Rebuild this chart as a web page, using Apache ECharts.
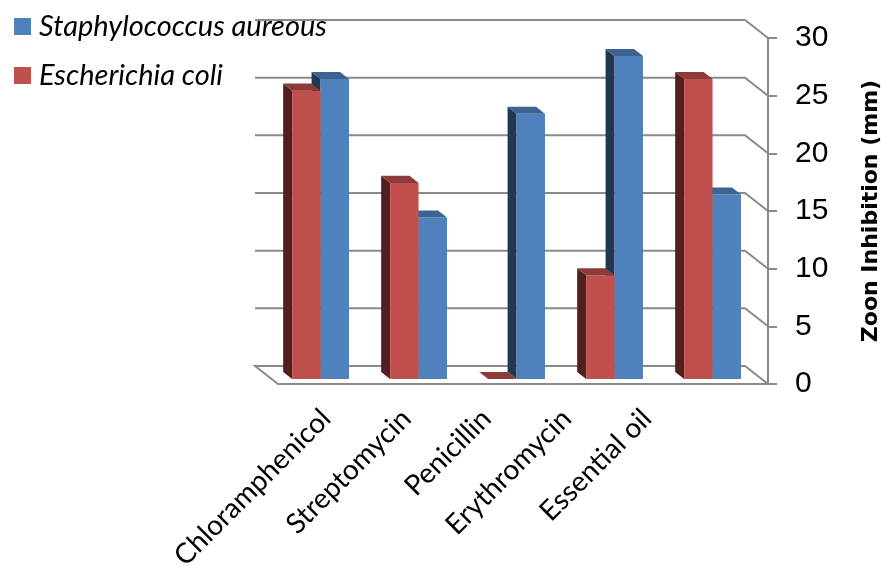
<!DOCTYPE html>
<html>
<head>
<meta charset="utf-8">
<script src="https://cdn.jsdelivr.net/npm/echarts@6/dist/echarts.min.js"></script>
<style>
html, body { margin: 0; padding: 0; background: #fff; }
#chart { width: 885px; height: 575px; }
</style>
</head>
<body>
<div id="chart"></div>
<script>
var categories = ['Chloramphenicol', 'Streptomycin', 'Penicillin', 'Erythromycin', 'Essential oil'];
var staphValues = [26, 14, 23, 28, 16];
var ecoliValues = [25, 17, 0, 9, 26];
var yTicks = [0, 5, 10, 15, 20, 25, 30];

// depth of the back wall, in px (pseudo 3D)
var DEPTH_X = -23, DEPTH_Y = -18;
var GRID_COLOR = '#8a8a8a';

function barRenderer(side, colors) {
    return function (params, api) {
        var idx = api.value(0);
        var top = api.coord([idx, api.value(1)]);
        var base = api.coord([idx, 0]);
        var band = api.size([1, 0])[0];
        var w = band * 0.29;
        var x0 = side < 0 ? top[0] - w : top[0];
        // front face sits a bit inside the floor, bar has some depth
        var ox = DEPTH_X * 0.28, oy = DEPTH_Y * 0.28;
        var dx = DEPTH_X * 0.39, dy = DEPTH_Y * 0.39;
        var fx0 = x0 + ox, fx1 = x0 + w + ox;
        var fyT = top[1] + oy, fyB = base[1] + oy;
        return {
            type: 'group',
            children: [
                {
                    type: 'polygon',
                    shape: { points: [[fx0, fyB], [fx0, fyT], [fx0 + dx, fyT + dy], [fx0 + dx, fyB + dy]] },
                    style: { fill: colors.side }
                },
                {
                    type: 'rect',
                    shape: { x: fx0, y: fyT, width: w, height: fyB - fyT },
                    style: { fill: colors.front }
                },
                {
                    type: 'polygon',
                    shape: { points: [[fx0, fyT], [fx1, fyT], [fx1 + dx, fyT + dy], [fx0 + dx, fyT + dy]] },
                    style: { fill: colors.top }
                }
            ]
        };
    };
}

function wallRenderer(params, api) {
    var v = api.value(1);
    var cs = params.coordSys;
    var y = api.coord([0, v])[1];
    var left = cs.x, right = cs.x + cs.width;
    var pts = [[right, y], [right + DEPTH_X, y + DEPTH_Y], [left + DEPTH_X, y + DEPTH_Y]];
    if (v === 0) {
        pts.push([left, y]);
    }
    return {
        type: 'polyline',
        shape: { points: pts },
        style: { stroke: GRID_COLOR, lineWidth: 2, fill: null }
    };
}

var chart = echarts.init(document.getElementById('chart'));

var option = {
    backgroundColor: '#fff',
    animation: false,
    legend: {
        orient: 'vertical',
        left: 14,
        top: 10,
        padding: 0,
        itemWidth: 17,
        itemHeight: 17,
        itemGap: 16,
        icon: 'rect',
        data: ['Staphylococcus aureous', 'Escherichia coli'],
        textStyle: {
            fontFamily: 'Lato',
            fontStyle: 'italic',
            fontSize: 29,
            lineHeight: 33,
            padding: [0, 0, 0, 3],
            color: '#000'
        }
    },
    grid: [
        { left: 278, right: 117, top: 38, bottom: 191, outerBoundsMode: 'none' },
        { left: 286, right: 198, top: 38, bottom: 191, outerBoundsMode: 'none' }
    ],
    xAxis: [
        {
            type: 'category',
            gridIndex: 0,
            data: categories,
            axisLine: { lineStyle: { color: GRID_COLOR, width: 2 } },
            axisTick: { interval: 0, length: 10, lineStyle: { color: GRID_COLOR, width: 2 } },
            axisLabel: { show: false }
        },
        {
            type: 'category',
            gridIndex: 1,
            data: categories,
            axisLine: { show: false },
            axisTick: { show: false },
            axisLabel: {
                interval: 0,
                rotate: 45,
                margin: 30,
                fontFamily: 'Lato',
                fontSize: 28,
                color: '#000'
            }
        }
    ],
    yAxis: [
        {
            type: 'value',
            gridIndex: 0,
            position: 'right',
            min: 0,
            max: 30,
            interval: 5,
            axisLine: { show: true, lineStyle: { color: GRID_COLOR, width: 2 } },
            axisTick: { show: true, length: 9, lineStyle: { color: GRID_COLOR, width: 2 } },
            axisLabel: {
                margin: 27,
                fontFamily: 'Liberation Sans',
                fontSize: 30,
                color: '#000'
            },
            splitLine: { show: false },
            name: 'Zoon Inhibition (mm)',
            nameLocation: 'middle',
            nameRotate: 90,
            nameGap: 92,
            nameMoveOverlap: false,
            nameTextStyle: {
                fontFamily: 'DejaVu Sans',
                fontWeight: 'bold',
                fontSize: 22,
                color: '#000'
            }
        },
        {
            type: 'value',
            gridIndex: 1,
            min: 0,
            max: 30,
            show: false
        }
    ],
    series: [
        {
            name: 'wall',
            type: 'custom',
            xAxisIndex: 0,
            yAxisIndex: 0,
            silent: true,
            z: 1,
            data: yTicks.map(function (v) { return [0, v]; }),
            encode: { x: 0, y: 1 },
            renderItem: wallRenderer
        },
        {
            name: 'Staphylococcus aureous',
            type: 'custom',
            xAxisIndex: 0,
            yAxisIndex: 0,
            z: 2,
            itemStyle: { color: '#4F81BD' },
            data: staphValues.map(function (v, i) { return [i, v]; }),
            encode: { x: 0, y: 1 },
            renderItem: barRenderer(1, { front: '#4F81BD', side: '#223752', top: '#3C6391' })
        },
        {
            name: 'Escherichia coli',
            type: 'custom',
            xAxisIndex: 0,
            yAxisIndex: 0,
            z: 2,
            itemStyle: { color: '#C0504D' },
            data: ecoliValues.map(function (v, i) { return [i, v]; }),
            encode: { x: 0, y: 1 },
            renderItem: barRenderer(-1, { front: '#C0504D', side: '#511F1E', top: '#8E3A38' })
        }
    ]
};

chart.setOption(option);
</script>
</body>
</html>
